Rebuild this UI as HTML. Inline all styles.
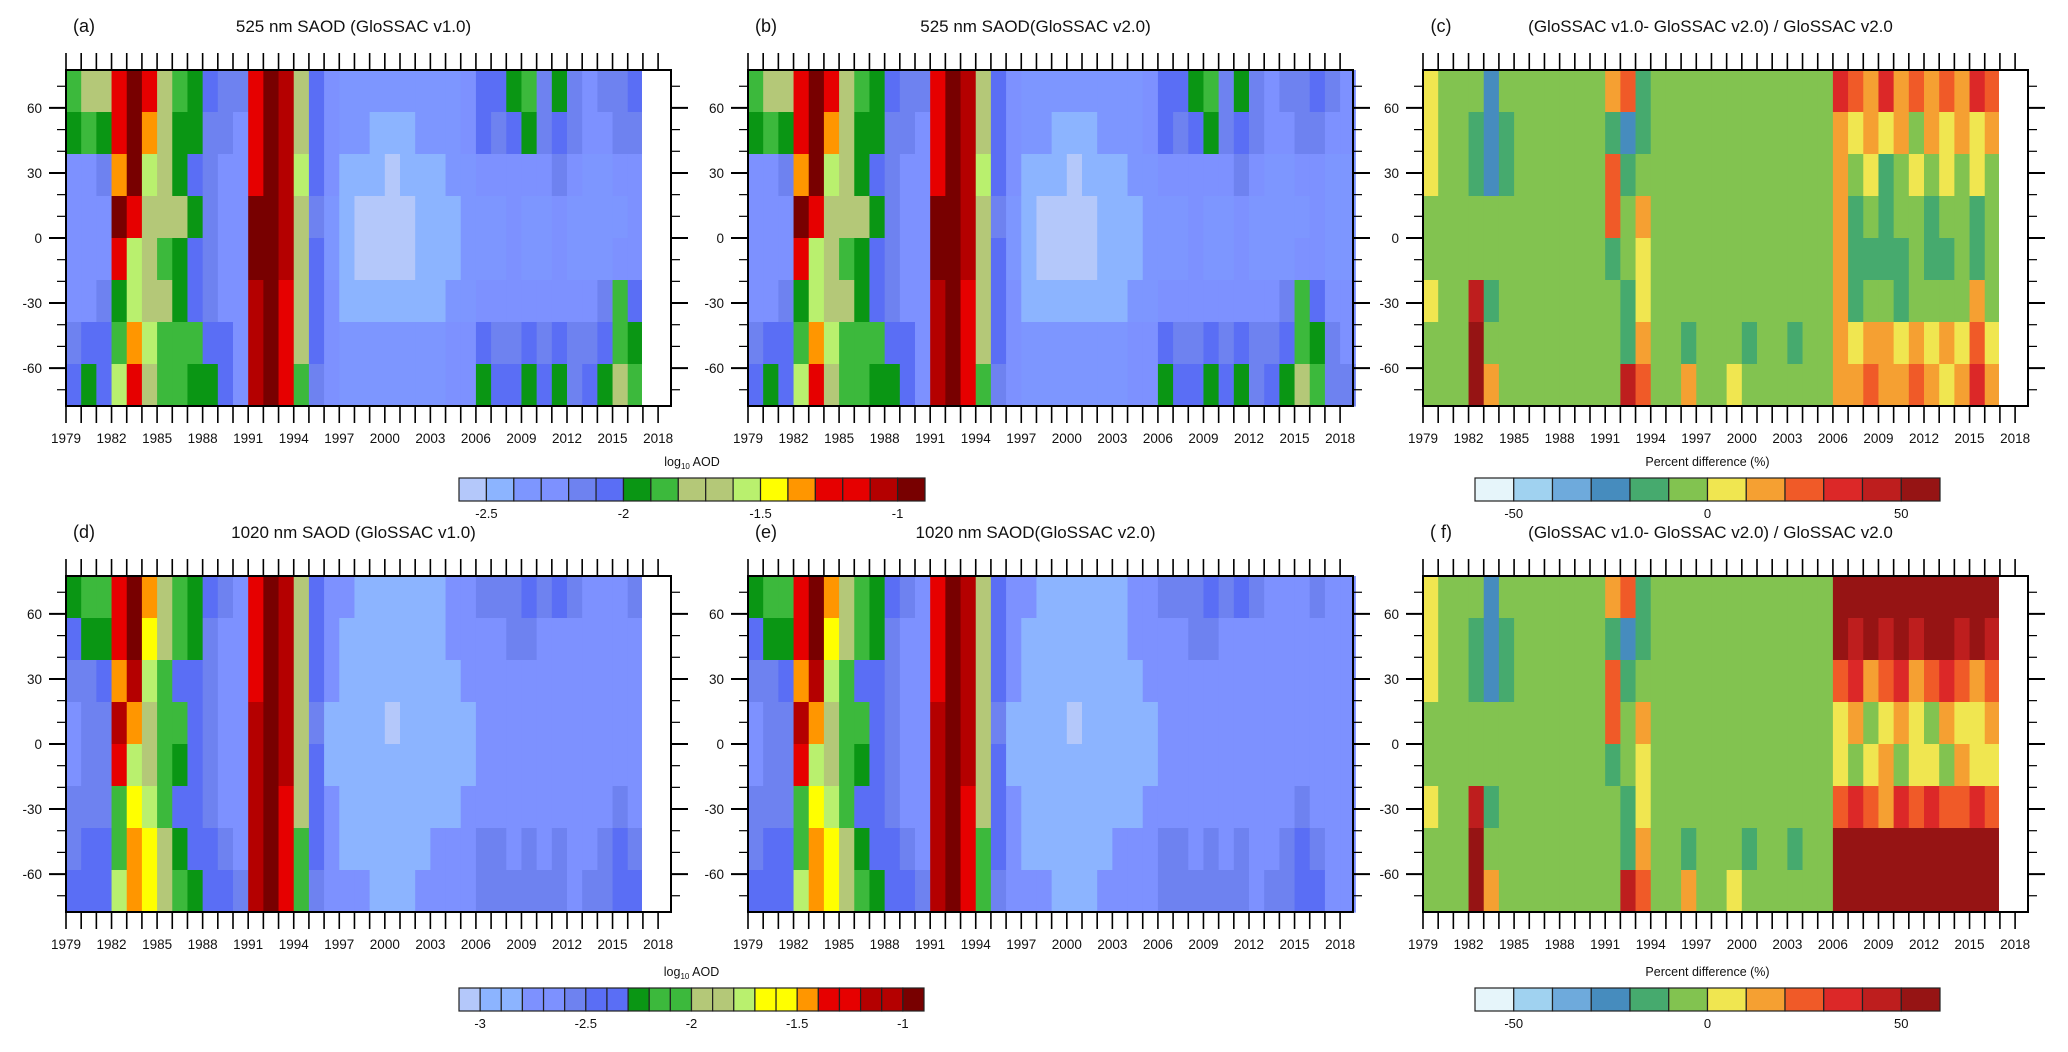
<!DOCTYPE html>
<html><head><meta charset="utf-8"><style>
html,body{margin:0;padding:0;background:#fff;width:2068px;height:1052px;overflow:hidden}
svg{display:block}
text{font-family:"Liberation Sans",sans-serif;fill:#111}
</style></head><body>
<svg id="fig" width="2068" height="1052" xmlns="http://www.w3.org/2000/svg"></svg>
<script>
// ---------- data ----------
const years = [];
for (let y = 1979; y <= 2018; y++) years.push(y);
const latBandsTop = [77.5, 58.125, 38.75, 19.375, 0, -19.375, -38.75, -58.125];
const latBandH = 19.375;
const latTicks = [60, 30, 0, -30, -60];
const yearTickLabels = [1979,1982,1985,1988,1991,1994,1997,2000,2003,2006,2009,2012,2015,2018];

// log10 AOD at 525 nm, rows = latitude bands north->south, columns = years 1979..2018
const aod525_b0 = [-1.9,-1.8,-1.8,-1.2,-0.95,-1.3,-1.8,-1.9,-1.95,-2.05,-2.15,-2.2,-1.3,-0.95,-1.1,-1.8,-2.05,-2.25,-2.35,-2.4,-2.4,-2.4,-2.4,-2.4,-2.4,-2.35,-2.3,-2.1,-2.05,-1.95,-1.9,-2.15,-1.95,-2.15,-2.25,-2.2,-2.15,-2.05,-2.2,-2.25];
const aod525_b1 = [-2.0,-1.9,-2.0,-1.3,-0.95,-1.4,-1.8,-1.95,-1.95,-2.15,-2.2,-2.25,-1.3,-0.95,-1.1,-1.8,-2.1,-2.3,-2.4,-2.4,-2.45,-2.45,-2.45,-2.4,-2.4,-2.35,-2.3,-2.1,-2.15,-2.05,-1.95,-2.2,-2.05,-2.2,-2.3,-2.25,-2.2,-2.15,-2.25,-2.3];
const aod525_b2 = [-2.3,-2.25,-2.2,-1.4,-0.95,-1.6,-1.8,-2.0,-2.1,-2.2,-2.25,-2.3,-1.2,-0.95,-1.05,-1.6,-2.1,-2.3,-2.45,-2.5,-2.5,-2.55,-2.5,-2.45,-2.45,-2.4,-2.35,-2.3,-2.3,-2.25,-2.25,-2.3,-2.2,-2.3,-2.35,-2.35,-2.3,-2.3,-2.35,-2.35];
const aod525_b3 = [-2.3,-2.3,-2.25,-1.0,-1.2,-1.7,-1.8,-1.75,-2.0,-2.2,-2.25,-2.3,-1.0,-0.95,-1.1,-1.75,-2.15,-2.35,-2.5,-2.55,-2.55,-2.6,-2.55,-2.5,-2.5,-2.45,-2.4,-2.35,-2.35,-2.3,-2.35,-2.35,-2.3,-2.35,-2.35,-2.35,-2.35,-2.3,-2.35,-2.35];
const aod525_b4 = [-2.3,-2.3,-2.3,-1.3,-1.6,-1.75,-1.85,-1.95,-2.1,-2.2,-2.25,-2.3,-1.0,-0.95,-1.1,-1.7,-2.1,-2.35,-2.5,-2.55,-2.55,-2.55,-2.55,-2.5,-2.5,-2.45,-2.4,-2.35,-2.35,-2.3,-2.35,-2.35,-2.3,-2.35,-2.35,-2.35,-2.3,-2.3,-2.35,-2.35];
const aod525_b5 = [-2.3,-2.3,-2.2,-2.0,-1.6,-1.7,-1.8,-2.0,-2.05,-2.2,-2.25,-2.3,-1.05,-0.95,-1.2,-1.7,-2.05,-2.3,-2.45,-2.5,-2.5,-2.5,-2.5,-2.45,-2.45,-2.4,-2.35,-2.3,-2.3,-2.3,-2.3,-2.3,-2.3,-2.3,-2.25,-2.2,-1.85,-2.05,-2.3,-2.3];
const aod525_b6 = [-2.2,-2.1,-2.1,-1.9,-1.4,-1.6,-1.85,-1.9,-1.9,-2.05,-2.1,-2.3,-1.05,-0.95,-1.25,-1.8,-2.1,-2.3,-2.4,-2.4,-2.4,-2.4,-2.4,-2.4,-2.35,-2.3,-2.3,-2.05,-2.15,-2.15,-2.05,-2.15,-2.05,-2.2,-2.15,-2.05,-1.85,-1.95,-2.2,-2.25];
const aod525_b7 = [-2.05,-1.95,-2.05,-1.6,-1.3,-1.7,-1.9,-1.9,-1.95,-1.95,-2.1,-2.25,-1.05,-0.95,-1.3,-1.85,-2.15,-2.3,-2.35,-2.35,-2.4,-2.4,-2.4,-2.35,-2.35,-2.3,-2.25,-2.0,-2.05,-2.1,-1.95,-2.05,-2.0,-2.15,-2.1,-1.95,-1.8,-1.9,-2.2,-2.2];
const aod525 = [aod525_b0,aod525_b1,aod525_b2,aod525_b3,aod525_b4,aod525_b5,aod525_b6,aod525_b7];

// log10 AOD at 1020 nm
const aod1020_b0 = [-2.3,-2.2,-2.2,-1.3,-1.0,-1.5,-2.0,-2.2,-2.3,-2.5,-2.6,-2.65,-1.35,-1.0,-1.2,-2.0,-2.4,-2.7,-2.8,-2.85,-2.85,-2.85,-2.85,-2.85,-2.85,-2.8,-2.75,-2.6,-2.6,-2.55,-2.5,-2.6,-2.5,-2.6,-2.7,-2.7,-2.65,-2.6,-2.7,-2.7];
const aod1020_b1 = [-2.4,-2.25,-2.3,-1.3,-1.0,-1.6,-2.0,-2.2,-2.25,-2.55,-2.65,-2.7,-1.3,-1.0,-1.2,-2.0,-2.45,-2.75,-2.85,-2.9,-2.9,-2.9,-2.9,-2.85,-2.85,-2.8,-2.75,-2.65,-2.7,-2.6,-2.6,-2.7,-2.65,-2.7,-2.75,-2.75,-2.7,-2.7,-2.75,-2.75];
const aod1020_b2 = [-2.6,-2.55,-2.5,-1.45,-1.1,-1.8,-2.1,-2.35,-2.45,-2.6,-2.7,-2.75,-1.25,-1.0,-1.15,-1.9,-2.5,-2.8,-2.9,-2.95,-2.95,-3.0,-2.95,-2.9,-2.9,-2.85,-2.8,-2.75,-2.75,-2.7,-2.7,-2.75,-2.7,-2.75,-2.8,-2.8,-2.75,-2.75,-2.8,-2.8];
const aod1020_b3 = [-2.65,-2.6,-2.6,-1.1,-1.5,-1.85,-2.1,-2.05,-2.4,-2.6,-2.7,-2.75,-1.05,-0.95,-1.2,-1.95,-2.55,-2.85,-2.95,-3.0,-3.0,-3.05,-3.0,-2.95,-2.95,-2.9,-2.85,-2.8,-2.8,-2.75,-2.8,-2.8,-2.75,-2.8,-2.8,-2.8,-2.8,-2.75,-2.8,-2.8];
const aod1020_b4 = [-2.65,-2.6,-2.6,-1.4,-1.75,-1.9,-2.15,-2.3,-2.45,-2.6,-2.7,-2.75,-1.05,-0.95,-1.2,-1.95,-2.5,-2.85,-2.95,-3.0,-3.0,-3.0,-3.0,-2.95,-2.95,-2.9,-2.85,-2.8,-2.8,-2.75,-2.8,-2.8,-2.75,-2.8,-2.8,-2.8,-2.75,-2.75,-2.8,-2.8];
const aod1020_b5 = [-2.6,-2.6,-2.55,-2.2,-1.65,-1.8,-2.05,-2.4,-2.5,-2.6,-2.65,-2.7,-1.1,-1.0,-1.3,-2.0,-2.5,-2.8,-2.9,-2.95,-2.95,-2.95,-2.95,-2.9,-2.9,-2.85,-2.8,-2.75,-2.75,-2.75,-2.75,-2.75,-2.75,-2.75,-2.7,-2.7,-2.6,-2.65,-2.75,-2.75];
const aod1020_b6 = [-2.55,-2.5,-2.45,-2.1,-1.5,-1.65,-1.95,-2.25,-2.35,-2.5,-2.55,-2.65,-1.1,-1.0,-1.3,-2.05,-2.5,-2.75,-2.85,-2.85,-2.85,-2.85,-2.85,-2.85,-2.8,-2.75,-2.75,-2.6,-2.6,-2.65,-2.6,-2.65,-2.6,-2.65,-2.65,-2.6,-2.5,-2.55,-2.7,-2.7];
const aod1020_b7 = [-2.45,-2.4,-2.4,-1.8,-1.45,-1.6,-1.9,-2.2,-2.3,-2.4,-2.5,-2.6,-1.1,-1.0,-1.35,-2.1,-2.55,-2.7,-2.8,-2.8,-2.85,-2.85,-2.85,-2.8,-2.8,-2.75,-2.7,-2.55,-2.6,-2.6,-2.55,-2.6,-2.6,-2.65,-2.6,-2.55,-2.45,-2.5,-2.65,-2.65];
const aod1020 = [aod1020_b0,aod1020_b1,aod1020_b2,aod1020_b3,aod1020_b4,aod1020_b5,aod1020_b6,aod1020_b7];

// percent difference 525 nm (panel c)
const pd525_b0 = [5,-5,-5,-5,-25,-5,-5,-5,-5,-5,-5,-5,15,25,-15,-5,-5,-5,-5,-5,-5,-5,-5,-5,-5,-5,-5,35,25,15,35,15,25,15,25,15,35,25,0,0];
const pd525_b1 = [5,-5,-5,-15,-25,-15,-5,-5,-5,-5,-5,-5,-15,-25,-15,-5,-5,-5,-5,-5,-5,-5,-5,-5,-5,-5,-5,15,5,15,5,15,-5,15,5,15,5,15,0,0];
const pd525_b2 = [5,-5,-5,-15,-25,-15,-5,-5,-5,-5,-5,-5,25,-15,-5,-5,-5,-5,-5,-5,-5,-5,-5,-5,-5,-5,-5,15,-5,5,-15,-5,5,-5,5,-5,5,-5,0,0];
const pd525_b3 = [-5,-5,-5,-5,-5,-5,-5,-5,-5,-5,-5,-5,25,-5,15,-5,-5,-5,-5,-5,-5,-5,-5,-5,-5,-5,-5,15,-15,-5,-15,-5,-5,-15,-5,-5,-15,-5,0,0];
const pd525_b4 = [-5,-5,-5,-5,-5,-5,-5,-5,-5,-5,-5,-5,-15,-5,5,-5,-5,-5,-5,-5,-5,-5,-5,-5,-5,-5,-5,15,-15,-15,-15,-15,-5,-15,-15,-5,-15,-5,0,0];
const pd525_b5 = [5,-5,-5,45,-15,-5,-5,-5,-5,-5,-5,-5,-5,-15,5,-5,-5,-5,-5,-5,-5,-5,-5,-5,-5,-5,-5,15,-15,-5,-5,-15,-5,-5,-5,-5,15,-5,0,0];
const pd525_b6 = [-5,-5,-5,55,-5,-5,-5,-5,-5,-5,-5,-5,-5,-15,15,-5,-5,-15,-5,-5,-5,-15,-5,-5,-15,-5,-5,15,5,15,15,5,15,5,15,5,25,5,0,0];
const pd525_b7 = [-5,-5,-5,55,15,-5,-5,-5,-5,-5,-5,-5,-5,45,25,-5,-5,15,-5,-5,5,-5,-5,-5,-5,-5,-5,15,15,25,15,15,25,15,5,15,35,15,0,0];
const pd525 = [pd525_b0,pd525_b1,pd525_b2,pd525_b3,pd525_b4,pd525_b5,pd525_b6,pd525_b7];

// percent difference 1020 nm (panel f)
const pd1020_b0 = [5,-5,-5,-5,-25,-5,-5,-5,-5,-5,-5,-5,15,25,-15,-5,-5,-5,-5,-5,-5,-5,-5,-5,-5,-5,-5,65,55,65,55,65,55,65,55,65,55,65,0,0];
const pd1020_b1 = [5,-5,-5,-15,-25,-15,-5,-5,-5,-5,-5,-5,-15,-25,-15,-5,-5,-5,-5,-5,-5,-5,-5,-5,-5,-5,-5,55,45,55,45,55,45,55,55,45,55,45,0,0];
const pd1020_b2 = [5,-5,-5,-15,-25,-15,-5,-5,-5,-5,-5,-5,25,-15,-5,-5,-5,-5,-5,-5,-5,-5,-5,-5,-5,-5,-5,25,35,15,25,35,15,25,35,25,15,25,0,0];
const pd1020_b3 = [-5,-5,-5,-5,-5,-5,-5,-5,-5,-5,-5,-5,25,-5,15,-5,-5,-5,-5,-5,-5,-5,-5,-5,-5,-5,-5,5,15,-5,5,15,5,-5,15,5,5,15,0,0];
const pd1020_b4 = [-5,-5,-5,-5,-5,-5,-5,-5,-5,-5,-5,-5,-15,-5,5,-5,-5,-5,-5,-5,-5,-5,-5,-5,-5,-5,-5,5,-5,5,15,-5,5,5,-5,15,5,5,0,0];
const pd1020_b5 = [5,-5,-5,45,-15,-5,-5,-5,-5,-5,-5,-5,-5,-15,5,-5,-5,-5,-5,-5,-5,-5,-5,-5,-5,-5,-5,25,35,25,15,35,25,35,25,25,35,25,0,0];
const pd1020_b6 = [-5,-5,-5,55,-5,-5,-5,-5,-5,-5,-5,-5,-5,-15,15,-5,-5,-15,-5,-5,-5,-15,-5,-5,-15,-5,-5,55,65,55,55,65,55,65,55,55,65,55,0,0];
const pd1020_b7 = [-5,-5,-5,55,15,-5,-5,-5,-5,-5,-5,-5,-5,45,25,-5,-5,15,-5,-5,5,-5,-5,-5,-5,-5,-5,65,55,65,65,55,65,55,65,65,55,65,0,0];
const pd1020 = [pd1020_b0,pd1020_b1,pd1020_b2,pd1020_b3,pd1020_b4,pd1020_b5,pd1020_b6,pd1020_b7];

// colour scales
const cmap525 = ['#b4c8fa','#8cb4ff','#7d96ff','#7d91ff','#6e82f0','#5a6ef5','#0a9614','#3cb93c','#b4c878','#b4c878','#b9f06e','#ffff00','#ff9600','#e60000','#e60000','#b40000','#780000'];
const cbLabels525 = ['-2.5','-2','-1.5','-1'];
const cmap1020 = ['#b4c8fa','#8cb4ff','#8cb4ff','#7d91ff','#7d91ff','#6e82f0','#5a6ef5','#5a6ef5','#0a9614','#3cb93c','#3cb93c','#b4c878','#b4c878','#b9f06e','#ffff00','#ffff00','#ff9600','#e60000','#e60000','#b40000','#b40000','#780000'];
const cbLabels1020 = ['-3','-2.5','-2','-1.5','-1'];
const cmapPd = ['#e6f5fa','#a0d2f0','#6eaadc','#468cbe','#46aa6e','#82c350','#f0e650','#f5a032','#f05a28','#dc2828','#be1e1e','#961414'];
const cbLabelsPd = ['-50','0','50'];

// ---------- drawing ----------
const NS = 'http://www.w3.org/2000/svg';
const svg = document.getElementById('fig');
function el(tag, attrs, parent, txt) {
  const e = document.createElementNS(NS, tag);
  for (const k in attrs) e.setAttribute(k, attrs[k]);
  if (txt !== undefined) e.textContent = txt;
  (parent || svg).appendChild(e);
  return e;
}
const PW = 605, ROW = [70, 576], PH = 336;
const PX = [66, 748, 1423];
const X0 = 1979, X1 = 2018.85;

function idx525(v){return Math.max(0,Math.min(16,Math.floor((v+2.5)/0.1+1e-6)+1));}
function idx1020(v){return Math.max(0,Math.min(21,Math.floor((v+3.0)/0.1+1e-6)+1));}
function idxPd(v){return Math.max(0,Math.min(11,Math.floor((v+50)/10+1e-6)+1));}

function panel(name, px, py, letter, title, grid, cmap, idxf, endYear) {
  const g = el('g', {}, svg);
  
  
  const xs = y => px + (y - X0) / (X1 - X0) * PW;
  const ys = lat => py + PH/2 - lat * (PH/2) / 77.5;
  const cells = el('g', {}, g);
  
  
  for (let b = 0; b < grid.length; b++) {
    for (let i = 0; i < years.length; i++) {
      const y0 = years[i];
      const y1 = Math.min(y0 + 1, endYear);
      if (y1 <= y0) continue;
      const xa = xs(y0), xb = xs(y1);
      const ya = ys(latBandsTop[b]), yb = ys(latBandsTop[b] - latBandH);
      const r = el('rect', {x: xa.toFixed(2), y: ya.toFixed(2), width: (xb - xa + 0.6).toFixed(2), height: (yb - ya + 0.6).toFixed(2), fill: cmap[idxf(grid[b][i])]}, cells);
      
      
    }
  }
  const fr = el('rect', {x: px, y: py, width: PW, height: PH, fill: 'none', stroke: '#000', 'stroke-width': 2}, g);
  
  
  for (let y = 1979; y <= 2018; y++) {
    const x = xs(y);
    el('line', {x1: x, y1: py, x2: x, y2: py - 17, stroke: '#000', 'stroke-width': 1.6}, g);
    el('line', {x1: x, y1: py + PH, x2: x, y2: py + PH + 17, stroke: '#000', 'stroke-width': 1.6}, g);
  }
  yearTickLabels.forEach(y => {
    const t = el('text', {x: xs(y), y: py + PH + 37, 'font-size': 13.5, 'text-anchor': 'middle'}, g, String(y));
    
    
  });
  for (let lat = 70; lat >= -70; lat -= 10) {
    const y = ys(lat);
    const major = lat % 30 === 0;
    const L = major ? 17 : 9;
    el('line', {x1: px, y1: y, x2: px - L, y2: y, stroke: '#000', 'stroke-width': major ? 2 : 1.2}, g);
    el('line', {x1: px + PW, y1: y, x2: px + PW + L, y2: y, stroke: '#000', 'stroke-width': major ? 2 : 1.2}, g);
  }
  latTicks.forEach(lat => {
    const t = el('text', {x: px - 24, y: ys(lat) + 5, 'font-size': 13.5, 'text-anchor': 'end'}, g, String(lat));
    
    
  });
  const tl = el('text', {x: px + 18, y: py - 38, 'font-size': 18, 'text-anchor': 'middle'}, g, letter);
  
  
  const tt = el('text', {x: px + PW/2 - 15, y: py - 38, 'font-size': 17, 'text-anchor': 'middle'}, g, title);
  
  
}

function colorbar(name, x0, x1, y0, cmap, labels, labelBoxes, titleTxt, titleHtmlSub) {
  const g = el('g', {}, svg);
  
  
  const n = cmap.length, w = (x1 - x0) / n, h = 23;
  cmap.forEach((c, i) => {
    const r = el('rect', {x: x0 + i*w, y: y0, width: w, height: h, fill: c, stroke: '#222', 'stroke-width': 1.2}, g);
    
    
  });
  labels.forEach((l, i) => {
    const t = el('text', {x: x0 + labelBoxes[i]*w, y: y0 + 40, 'font-size': 13, 'text-anchor': 'middle'}, g, l);
    
    
  });
  const cx = (x0 + x1) / 2;
  let t;
  if (titleHtmlSub) {
    t = el('text', {x: cx, y: y0 - 12, 'font-size': 12.5, 'text-anchor': 'middle'}, g);
    el('tspan', {}, t, 'log');
    el('tspan', {'font-size': 8, dy: 3}, t, '10');
    el('tspan', {dy: -3}, t, ' AOD');
  } else {
    t = el('text', {x: cx, y: y0 - 12, 'font-size': 12.5, 'text-anchor': 'middle'}, g, titleTxt);
  }
  
  
}

panel('panel-a', PX[0], ROW[0], '(a)', '525 nm SAOD (GloSSAC v1.0)', aod525, cmap525, idx525, 2016.9);
panel('panel-b', PX[1], ROW[0], '(b)', '525 nm SAOD(GloSSAC v2.0)', aod525, cmap525, idx525, 2019);
panel('panel-c', PX[2], ROW[0], '(c)', '(GloSSAC v1.0- GloSSAC v2.0) / GloSSAC v2.0', pd525, cmapPd, idxPd, 2016.9);
panel('panel-d', PX[0], ROW[1], '(d)', '1020 nm SAOD (GloSSAC v1.0)', aod1020, cmap1020, idx1020, 2016.9);
panel('panel-e', PX[1], ROW[1], '(e)', '1020 nm SAOD(GloSSAC v2.0)', aod1020, cmap1020, idx1020, 2019);
panel('panel-f', PX[2], ROW[1], '( f)', '(GloSSAC v1.0- GloSSAC v2.0) / GloSSAC v2.0', pd1020, cmapPd, idxPd, 2016.9);

colorbar('colorbar-aod-525', 459, 925, 478, cmap525, cbLabels525, [1,6,11,16], '', true);
colorbar('colorbar-pd-525', 1475, 1940, 478, cmapPd, cbLabelsPd, [1,6,11], 'Percent difference  (%)', false);
colorbar('colorbar-aod-1020', 459, 924, 988, cmap1020, cbLabels1020, [1,6,11,16,21], '', true);
colorbar('colorbar-pd-1020', 1475, 1940, 988, cmapPd, cbLabelsPd, [1,6,11], 'Percent difference  (%)', false);
</script>
</body></html>
